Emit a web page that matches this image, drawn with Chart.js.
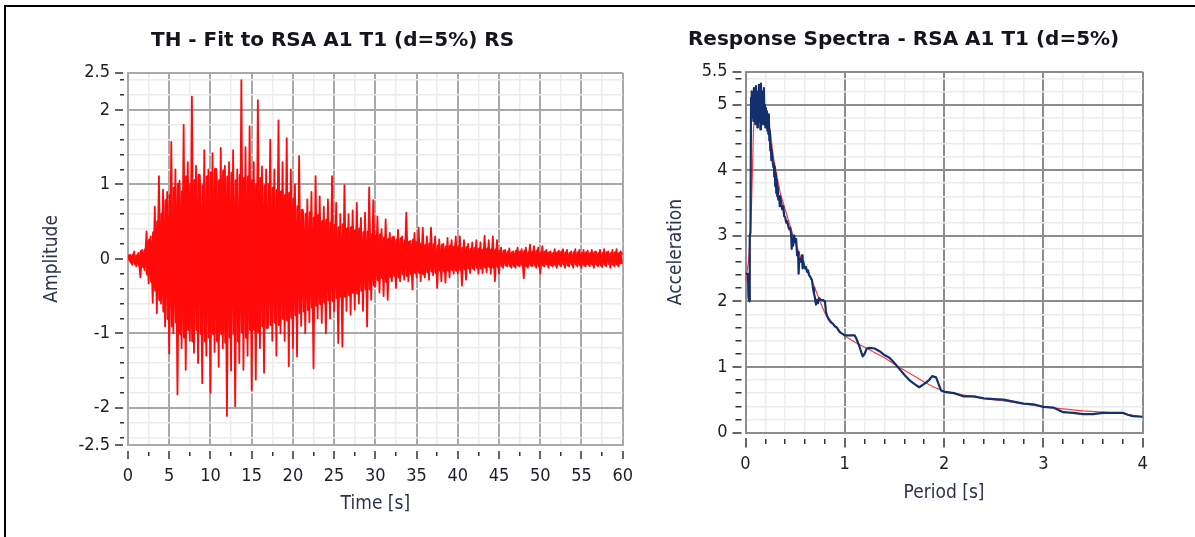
<!DOCTYPE html>
<html>
<head>
<meta charset="utf-8">
<script src="https://cdn.jsdelivr.net/npm/chart.js@4.4.1/dist/chart.umd.min.js"></script>
<style>
  html, body { margin: 0; padding: 0; background: #fff; overflow: hidden; }
  #frame { position: absolute; left: 4px; top: 5px; width: 1191px; height: 532px;
           border-top: 2px solid #000; border-left: 2px solid #000; box-sizing: border-box; }
  canvas { position: absolute; top: 0; }
  #th { left: 0; }
  #rs { left: 640px; }
</style>
</head>
<body>
<div id="frame"></div>
<canvas id="th" width="640" height="537"></canvas>
<canvas id="rs" width="555" height="537"></canvas>
<script>
// ---- time history ----
// outer swings (the spikes), one value every DT seconds starting at 0
const DT = 0.25;
const thAmp = [
  // 0 - 4.75 s
  -0.02, 0.05, -0.08, 0.1, -0.1, 0.08, -0.25, 0.12, -0.15, 0.37, -0.33, 0.3, -0.59, 0.7, -0.73, 1.11, -0.6, 0.93, -0.91, 0.9,
  // 5 - 9.75 s
  -1.27, 1.57, -1.0, 1.2, -1.82, 1.05, -1.2, 1.8, -1.49, 1.3, -1.1, 2.18, -1.26, 1.25, -1.4, 1.0, -1.67, 1.46, -1.3, 1.2,
  // 10 - 14.75 s
  -1.8, 1.42, -1.25, 1.1, -1.45, 1.49, -1.2, 1.25, -2.11, 1.3, -1.5, 1.46, -1.98, 1.2, -1.4, 2.4, -1.49, 1.5, -1.3, 1.78,
  // 15 - 19.75 s
  -1.76, 1.3, -1.62, 2.13, -1.2, 1.24, -1.53, 1.2, -0.9, 1.6, -1.1, 1.2, -1.3, 1.86, -1.0, 1.3, -1.1, 1.62, -1.44, 1.2,
  // 20 - 24.75 s
  -1.2, 1.0, -1.31, 1.38, -0.9, 0.62, -1.0, 0.8, -0.85, 0.9, -1.47, 1.11, -0.8, 0.84, -0.86, 0.7, -1.0, 0.8, -0.8, 1.11,
  // 25 - 29.75 s
  -0.7, 0.75, -1.13, 0.6, -1.18, 0.99, -0.7, 0.6, -0.75, 0.65, -0.68, 0.75, -0.6, 0.55, -0.7, 0.62, -0.91, 0.96, -0.55, 0.79,
  // 30 - 34.75 s
  -0.37, 0.57, -0.45, 0.4, -0.5, 0.53, -0.55, 0.35, -0.3, 0.3, -0.39, 0.39, -0.3, 0.3, -0.28, 0.62, -0.3, 0.24, -0.41, 0.35,
  // 35 - 39.75 s
  -0.25, 0.42, -0.3, 0.42, -0.25, 0.3, -0.28, 0.42, -0.22, 0.3, -0.39, 0.26, -0.3, 0.2, -0.32, 0.28, -0.25, 0.25, -0.2, 0.3,
  // 40 - 44.75 s
  -0.2, 0.3, -0.36, 0.25, -0.28, 0.2, -0.19, 0.22, -0.15, 0.25, -0.2, 0.22, -0.19, 0.31, -0.18, 0.25, -0.2, 0.3, -0.3, 0.25,
  // 45 - 49.75 s
  -0.2, 0.15, -0.12, 0.12, -0.1, 0.14, -0.12, 0.1, -0.12, 0.15, -0.1, 0.13, -0.26, 0.15, -0.12, 0.19, -0.1, 0.17, -0.12, 0.15,
  // 50 - 54.75 s
  -0.2, 0.17, -0.1, 0.12, -0.12, 0.1, -0.1, 0.13, -0.12, 0.11, -0.1, 0.13, -0.12, 0.12, -0.1, 0.1, -0.12, 0.13, -0.1, 0.12,
  // 55 - 60 s
  -0.12, 0.12, -0.1, 0.11, -0.1, 0.12, -0.12, 0.1, -0.1, 0.12, -0.11, 0.13, -0.1, 0.1, -0.12, 0.12, -0.1, 0.13, -0.1, 0.1, 0.05
];
// inner swings (the dense body), one value every DT seconds starting at DT/2
const thInner = [
  // 0.125 - 4.875 s
  0.06, -0.04, 0.05, -0.06, 0.04, -0.08, 0.1, -0.1, 0.12, -0.2, 0.25, -0.3, 0.35, -0.42, 0.5, -0.55, 0.6, -0.7, 0.78, -0.8,
  // 5.125 - 9.875 s
  0.85, -0.9, 0.95, -0.85, 1.0, -1.0, 0.9, -1.05, 1.1, -0.95, 1.0, -1.1, 1.05, -0.95, 1.12, -1.0, 0.98, -1.1, 1.1, -1.05,
  // 10.125 - 14.875 s
  1.15, -1.0, 1.2, -1.1, 1.05, -1.0, 1.18, -1.12, 1.1, -1.05, 1.15, -1.0, 1.05, -1.1, 1.12, -0.98, 1.08, -1.05, 1.1, -0.95,
  // 15.125 - 19.875 s
  1.05, -0.95, 1.0, -0.98, 1.08, -0.9, 0.98, -0.92, 1.0, -0.88, 0.95, -0.85, 0.92, -0.88, 0.9, -0.8, 0.85, -0.82, 0.88, -0.78,
  // 20.125 - 24.875 s
  0.8, -0.75, 0.7, -0.72, 0.65, -0.7, 0.6, -0.68, 0.62, -0.65, 0.55, -0.62, 0.58, -0.6, 0.5, -0.58, 0.52, -0.55, 0.48, -0.56,
  // 25.125 - 29.875 s
  0.45, -0.52, 0.42, -0.5, 0.46, -0.5, 0.4, -0.48, 0.42, -0.45, 0.38, -0.46, 0.4, -0.42, 0.35, -0.4, 0.36, -0.4, 0.32, -0.35,
  // 30.125 - 34.875 s
  0.3, -0.28, 0.32, -0.25, 0.28, -0.3, 0.26, -0.24, 0.28, -0.22, 0.25, -0.24, 0.27, -0.2, 0.24, -0.22, 0.22, -0.2, 0.25, -0.18,
  // 35.125 - 39.875 s
  0.22, -0.18, 0.2, -0.2, 0.18, -0.17, 0.2, -0.16, 0.19, -0.18, 0.17, -0.15, 0.18, -0.16, 0.16, -0.15, 0.17, -0.14, 0.16, -0.15,
  // 40.125 - 44.875 s
  0.15, -0.14, 0.14, -0.13, 0.15, -0.12, 0.13, -0.12, 0.14, -0.11, 0.13, -0.12, 0.12, -0.11, 0.13, -0.1, 0.12, -0.11, 0.12, -0.1,
  // 45.125 - 49.875 s
  0.1, -0.09, 0.1, -0.08, 0.09, -0.09, 0.08, -0.09, 0.1, -0.08, 0.09, -0.08, 0.1, -0.09, 0.08, -0.08, 0.09, -0.08, 0.1, -0.09,
  // 50.125 - 54.875 s
  0.08, -0.08, 0.09, -0.07, 0.08, -0.08, 0.07, -0.08, 0.08, -0.07, 0.09, -0.07, 0.08, -0.08, 0.07, -0.07, 0.08, -0.07, 0.08, -0.08,
  // 55.125 - 59.875 s
  0.07, -0.08, 0.08, -0.07, 0.07, -0.07, 0.08, -0.07, 0.07, -0.08, 0.07, -0.07, 0.08, -0.06, 0.07, -0.07, 0.08, -0.07, 0.07, -0.07
];
const thXLabels = [0, 5, 10, 15, 20, 25, 30, 35, 40, 45, 50, 55, 60];
const thYLabels = [-2.5, -2, -1, 0, 1, 2, 2.5];

// ---- response spectra ----
const rsTargetT  = [0, 0.03, 0.05, 0.06, 0.07, 0.08, 0.1, 0.15, 0.2, 0.25, 0.28, 0.3, 0.35, 0.4, 0.45, 0.5, 0.55, 0.6, 0.65, 0.7,
                    0.75, 0.8, 0.9, 1.0, 1.1, 1.2, 1.3, 1.4, 1.5, 1.6, 1.7, 1.8, 1.9, 2.0, 2.2, 2.4, 2.6, 2.8, 3.0, 3.2,
                    3.4, 3.6, 3.8, 3.9, 4.0];
const rsTargetSa = [2.3, 2.6, 3.1, 3.45, 4.0, 4.6, 5.0, 5.0, 4.95, 4.6, 4.2, 4.05, 3.65, 3.4, 3.15, 2.9, 2.7, 2.52, 2.38, 2.2,
                    2.0, 1.82, 1.62, 1.47, 1.38, 1.3, 1.22, 1.14, 1.04, 0.95, 0.86, 0.77, 0.69, 0.63, 0.57, 0.52, 0.48, 0.44, 0.39, 0.36,
                    0.33, 0.31, 0.29, 0.26, 0.24];
// [period, acceleration] of the matched record
const rsMatched = [
  [0, 2.42], [0.025, 2.42], [0.03, 2.05], [0.04, 2.0], [0.043, 3.0], [0.05, 3.05], [0.056, 5.1],
  [0.06, 4.95], [0.065, 5.2], [0.07, 4.8], [0.075, 5.15], [0.08, 4.75], [0.085, 5.25], [0.09, 4.85], [0.095, 5.1],
  [0.1, 4.7], [0.105, 5.28], [0.11, 4.9], [0.115, 5.0], [0.12, 4.65], [0.125, 5.2], [0.13, 4.8], [0.135, 5.3],
  [0.14, 4.75], [0.145, 5.05], [0.15, 4.62], [0.155, 5.32], [0.16, 4.85], [0.165, 5.2], [0.17, 4.7], [0.175, 5.1],
  [0.18, 4.8], [0.185, 5.25], [0.19, 4.7], [0.195, 5.0], [0.2, 4.65], [0.205, 4.95], [0.21, 4.75], [0.215, 4.9],
  [0.22, 4.6], [0.225, 4.8], [0.23, 4.55], [0.235, 4.85], [0.24, 4.45], [0.245, 4.6], [0.25, 4.3], [0.255, 4.4],
  [0.26, 4.15], [0.265, 4.3], [0.27, 4.2], [0.28, 4.05], [0.285, 4.1], [0.29, 3.9], [0.295, 4.05], [0.3, 3.75],
  [0.305, 3.95], [0.31, 3.65], [0.315, 3.85], [0.32, 3.6], [0.325, 3.75], [0.33, 3.55], [0.34, 3.6], [0.345, 3.45],
  [0.35, 3.6], [0.36, 3.5], [0.37, 3.4], [0.38, 3.45], [0.39, 3.3], [0.4, 3.28], [0.41, 3.2], [0.42, 3.22],
  [0.43, 3.15], [0.44, 3.1], [0.45, 3.12], [0.46, 3.02], [0.465, 2.8], [0.47, 2.95], [0.48, 2.85], [0.49, 3.0],
  [0.5, 2.9], [0.51, 2.95], [0.52, 2.7], [0.53, 2.75], [0.535, 2.42], [0.54, 2.6], [0.55, 2.65], [0.56, 2.6],
  [0.57, 2.7], [0.575, 2.5], [0.58, 2.62], [0.59, 2.55], [0.6, 2.5], [0.61, 2.52], [0.62, 2.45], [0.63, 2.47],
  [0.64, 2.4], [0.65, 2.38], [0.66, 2.35], [0.67, 2.32], [0.68, 2.2], [0.69, 2.12], [0.7, 2.05], [0.71, 1.95],
  [0.72, 2.02], [0.73, 1.97], [0.74, 2.05], [0.76, 2.02], [0.78, 2.02], [0.8, 2.0], [0.81, 1.85], [0.82, 1.78],
  [0.84, 1.72], [0.86, 1.68], [0.88, 1.66], [0.9, 1.62], [0.92, 1.6], [0.95, 1.53], [0.98, 1.5], [1.0, 1.48],
  [1.1, 1.48], [1.12, 1.42], [1.15, 1.3], [1.18, 1.16], [1.2, 1.2], [1.22, 1.28], [1.25, 1.29], [1.3, 1.28],
  [1.35, 1.24], [1.4, 1.18], [1.45, 1.14], [1.5, 1.06], [1.55, 0.97], [1.6, 0.88], [1.65, 0.8], [1.7, 0.74],
  [1.75, 0.69], [1.8, 0.74], [1.85, 0.8], [1.88, 0.86], [1.92, 0.84], [1.95, 0.72], [1.97, 0.64], [2.0, 0.62],
  [2.1, 0.6], [2.2, 0.55], [2.3, 0.55], [2.4, 0.52], [2.5, 0.51], [2.6, 0.5], [2.7, 0.47], [2.8, 0.44],
  [2.9, 0.43], [3.0, 0.39], [3.1, 0.38], [3.2, 0.31], [3.3, 0.3], [3.4, 0.28], [3.5, 0.28], [3.6, 0.3],
  [3.7, 0.3], [3.8, 0.3], [3.85, 0.27], [3.9, 0.25], [4.0, 0.24]
];
const rsXLabels = [0, 1, 2, 3, 4];
const rsYLabels = [0, 1, 2, 3, 4, 5, 5.5];

// ---- look ----
const TEXT = '#1e1e28';
const AXIS_TEXT = '#2b3350';
const MINOR = '#ececec';
const TH_RED = '#ff0a0a';
const tickFont = { family: 'DejaVu Sans Condensed', size: 18 };
const axisFont = { family: 'DejaVu Sans Condensed', size: 19 };
const titleFont = { family: 'DejaVu Sans', size: 20, weight: 'bold' };

function gridValues(from, to, step, extra) {
  const out = [];
  for (let v = from; v <= to + 1e-9; v += step) out.push(Math.round(v * 100) / 100);
  (extra || []).forEach(v => { if (!out.includes(v)) out.push(v); });
  return out.sort((a, b) => a - b);
}

function xScale(min, max, grid, labels, isMajor, majorColor, height, text, titlePad, dashMajor, dashMinor, tickLen, labelPad) {
  return {
    type: 'linear', min, max,
    afterBuildTicks: s => { s.ticks = grid.map(v => ({ value: v })); },
    afterFit: s => { s.height = height; },
    grid: {
      color: c => isMajor(c.tick.value) ? majorColor : MINOR,
      lineWidth: c => isMajor(c.tick.value) ? 2 : 1.5,
      tickLength: tickLen, tickColor: '#333', tickWidth: 1.5,
      tickBorderDash: c => isMajor(c.tick.value) ? dashMajor : dashMinor
    },
    border: { color: majorColor, width: 2 },
    ticks: {
      autoSkip: false, maxRotation: 0, minRotation: 0, padding: labelPad, color: TEXT, font: tickFont,
      callback: v => labels.includes(v) ? String(v) : ''
    },
    title: { display: true, text, color: AXIS_TEXT, font: axisFont, padding: { top: 0, bottom: titlePad } }
  };
}

function yScale(min, max, grid, labels, isMajor, majorColor, width, text, dashMajor, dashMinor, tickLen, labelPad) {
  return {
    type: 'linear', min, max,
    afterBuildTicks: s => { s.ticks = grid.map(v => ({ value: v })); },
    afterFit: s => { s.width = width; },
    grid: {
      color: c => isMajor(c.tick.value) ? majorColor : MINOR,
      lineWidth: c => isMajor(c.tick.value) ? 2 : 1.5,
      tickLength: tickLen, tickColor: '#333', tickWidth: 1.5,
      tickBorderDash: c => isMajor(c.tick.value) ? dashMajor : dashMinor
    },
    border: { color: majorColor, width: 2 },
    ticks: {
      autoSkip: false, padding: labelPad, color: TEXT, font: tickFont,
      callback: v => labels.includes(v) ? String(v) : ''
    },
    title: { display: true, text, color: AXIS_TEXT, font: axisFont, padding: { top: 0, bottom: 0 } }
  };
}

const isInt = v => Math.abs(v - Math.round(v)) < 1e-6;

// ---- left chart ----
const TH_MAJOR = '#a9a9a9';
new Chart(document.getElementById('th'), {
  type: 'line',
  data: {
    datasets: [{
      data: thAmp.map((a, i) => ({ x: i * DT, y: a })),
      borderColor: TH_RED, borderWidth: 1.8, borderJoinStyle: 'round',
      pointRadius: 0, tension: 0
    }, {
      data: thInner.map((a, i) => ({ x: i * DT + DT / 2, y: a })),
      borderColor: TH_RED, borderWidth: 3.4, borderJoinStyle: 'round',
      pointRadius: 0, tension: 0
    }]
  },
  options: {
    responsive: false, animation: false, events: [],
    layout: { padding: { left: 40.6, right: 15.5, top: 0, bottom: 0 } },
    plugins: {
      legend: { display: false }, tooltip: { enabled: false },
      title: { display: true, text: 'TH - Fit to RSA A1 T1 (d=5%) RS', color: '#15151c', font: titleFont,
               padding: { top: 29, bottom: 19.7 } }
    },
    scales: {
      x: xScale(0, 60, gridValues(0, 60, 2.5), thXLabels, v => v % 5 === 0, TH_MAJOR, 92, 'Time [s]', 21.6,
                [0, 5, 9, 100], [0, 6, 4, 100], 14, 7),
      y: yScale(-2.5, 2.5, gridValues(-2.4, 2.4, 0.2, [-2.5, 2.5]), thYLabels,
                v => isInt(v) || Math.abs(v) === 2.5, TH_MAJOR, 87.4, 'Amplitude', [8, 100], [0, 5, 4, 100], 13, 5)
    }
  }
});

// ---- right chart ----
const RS_MAJOR = '#8c8c8c';
new Chart(document.getElementById('rs'), {
  type: 'line',
  data: {
    datasets: [{
      data: rsMatched.map(p => ({ x: p[0], y: p[1] })),
      borderColor: '#13306e', borderWidth: 2.2, borderJoinStyle: 'round',
      pointRadius: 0, tension: 0
    }, {
      data: rsTargetT.map((t, i) => ({ x: t, y: rsTargetSa[i] })),
      borderColor: '#ff3b3b', borderWidth: 1.2,
      pointRadius: 0, tension: 0
    }]
  },
  options: {
    responsive: false, animation: false, events: [],
    layout: { padding: { left: 24.6, right: 52.4, top: 0, bottom: 0 } },
    plugins: {
      legend: { display: false }, tooltip: { enabled: false },
      title: { display: true, text: 'Response Spectra - RSA A1 T1 (d=5%)', color: '#15151c', font: titleFont,
               padding: { top: 28, bottom: 19.7 } }
    },
    scales: {
      x: xScale(0, 4, gridValues(0, 4, 0.2), rsXLabels, isInt, RS_MAJOR, 104.5, 'Period [s]', 32.6,
                [0, 4, 10, 100], [0, 5, 5, 100], 15, 6),
      y: yScale(0, 5.5, gridValues(0, 5.4, 0.2, [5.5]), rsYLabels,
                v => isInt(v) || v === 5.5, RS_MAJOR, 80.9, 'Acceleration', [9, 100], [0, 3, 6, 100], 13, 5)
    }
  }
});
</script>
</body>
</html>
